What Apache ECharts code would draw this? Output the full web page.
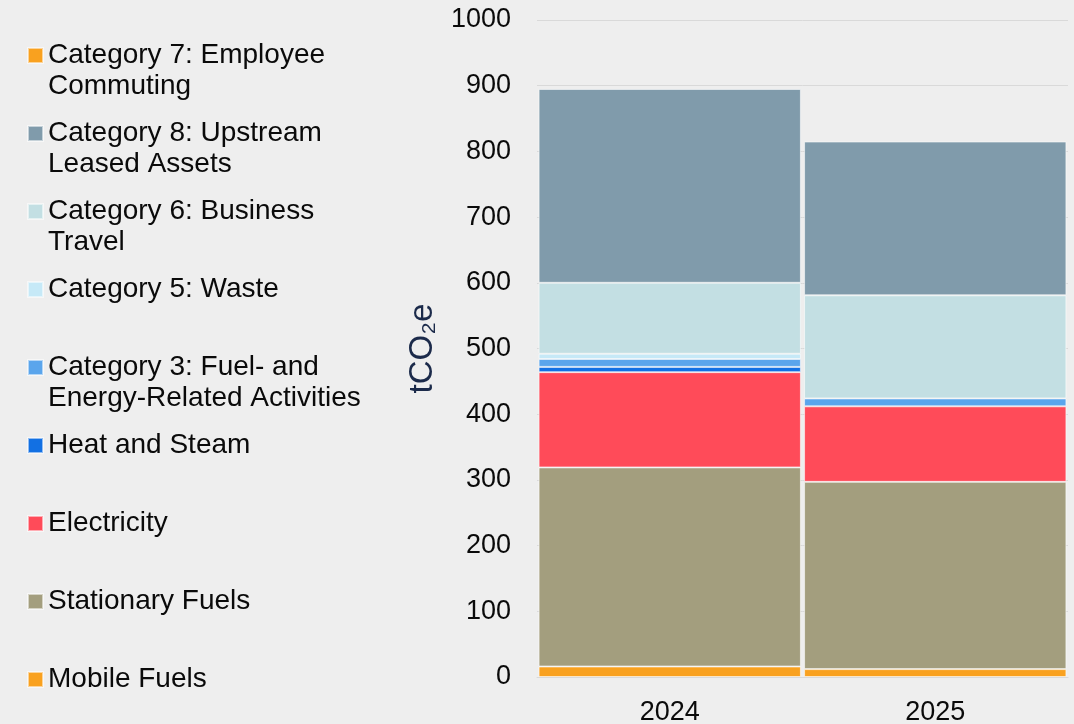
<!DOCTYPE html>
<html>
<head>
<meta charset="utf-8">
<script src="https://cdn.jsdelivr.net/npm/echarts@6/dist/echarts.min.js"></script>
<style>
    html, body { margin: 0; padding: 0; background: #eeeeee; }
    #chart { width: 1074px; height: 724px; }
</style>
</head>
<body>
<div id="chart"></div>
<script>
// data (tCO2e)
var years = ['2024', '2025'];
var mobileFuels = [16, 12];
var stationaryFuels = [303, 285];
var electricity = [145, 115];
var heatSteam = [8, 0];
var cat3Fuel = [12, 12];
var cat5Waste = [8, 0];
var cat6Travel = [108, 157];
var cat8Leased = [295, 234];
var cat7Commuting = [0, 0];
var yTicks = [0, 1000, 100]; // min, max, interval

// stacked bottom -> top
var seriesDefs = [
    {name: 'Mobile Fuels', data: mobileFuels, color: '#f9a11f'},
    {name: 'Stationary Fuels', data: stationaryFuels, color: '#a39e7e'},
    {name: 'Electricity', data: electricity, color: '#ff4b59'},
    {name: 'Heat and Steam', data: heatSteam, color: '#1270e3'},
    {name: 'Category 3: Fuel- and Energy-Related Activities', label: 'Category 3: Fuel- and\nEnergy-Related Activities', data: cat3Fuel, color: '#5aa5ec'},
    {name: 'Category 5: Waste', data: cat5Waste, color: '#c6e9f7'},
    {name: 'Category 6: Business Travel', label: 'Category 6: Business\nTravel', data: cat6Travel, color: '#c3dfe3'},
    {name: 'Category 8: Upstream Leased Assets', label: 'Category 8: Upstream\nLeased Assets', data: cat8Leased, color: '#809bab'},
    {name: 'Category 7: Employee Commuting', label: 'Category 7: Employee\nCommuting', data: cat7Commuting, color: '#f9a11f'}
];

// every legend entry is three lines tall so the marker sits on the first text line
var labelOf = {};
seriesDefs.forEach(function (s) {
    labelOf[s.name] = s.label ? '\u00a0\n' + s.label : '\u00a0\n' + s.name + '\n\u00a0';
});

var chart = echarts.init(document.getElementById('chart'));
chart.setOption({
    backgroundColor: '#eeeeee',
    textStyle: {fontFamily: 'Liberation Sans, Arial, sans-serif'},
    legend: {
        orient: 'vertical',
        left: 27,
        top: 9,
        height: 760,
        padding: 0,
        itemGap: -15,
        itemWidth: 15,
        itemHeight: 15,
        icon: 'rect',
        selectedMode: false,
        formatter: function (name) { return labelOf[name]; },
        textStyle: {fontSize: 28, lineHeight: 31, color: '#0a0a0a'},
        data: seriesDefs.slice().reverse().map(function (s) { return s.name; })
    },
    grid: {
        left: 537,
        right: 6,
        top: 20,
        bottom: 47,
        outerBoundsMode: 'none'
    },
    xAxis: {
        type: 'category',
        data: years,
        axisLine: {show: true, lineStyle: {color: '#d9d9d9'}},
        axisTick: {show: false},
        axisLabel: {fontSize: 27, color: '#0a0a0a', margin: 22}
    },
    yAxis: {
        type: 'value',
        min: yTicks[0],
        max: yTicks[1],
        interval: yTicks[2],
        name: 'tCO₂e',
        nameLocation: 'middle',
        nameRotate: 90,
        nameGap: 98,
        nameTextStyle: {fontSize: 33, color: '#1b2a4a'},
        axisLine: {show: false},
        axisTick: {show: false},
        axisLabel: {
            fontSize: 27,
            color: '#0a0a0a',
            margin: 26,
            formatter: function (v) { return String(v); }
        },
        splitLine: {lineStyle: {color: '#d9d9d9', width: 1}}
    },
    series: seriesDefs.map(function (s) {
        return {
            name: s.name,
            type: 'bar',
            stack: 'Total',
            barWidth: '98.8%',
            itemStyle: {
                color: s.color,
                borderColor: 'rgba(255,255,255,0.55)',
                borderWidth: 1
            },
            data: s.data.map(function (v) { return v ? v : '-'; })
        };
    })
});
</script>
</body>
</html>
